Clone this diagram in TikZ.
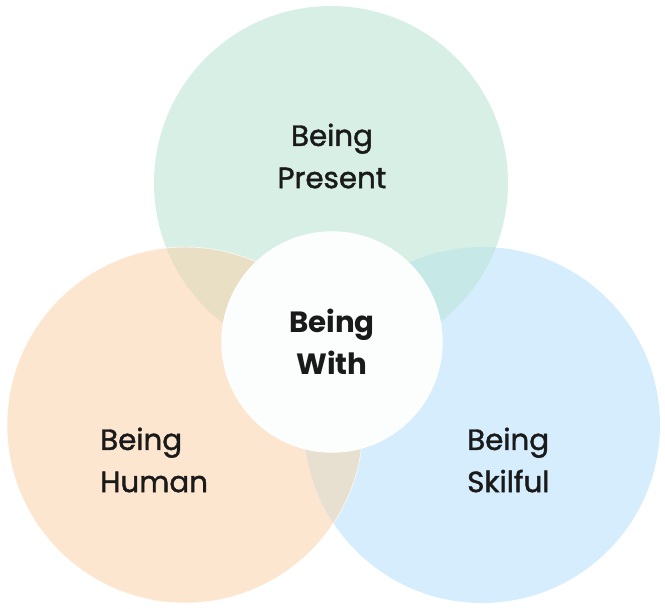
\documentclass[tikz,border=0pt]{standalone}
\usepackage{fontspec}
\setmainfont{Poppins}
\newfontfamily\labelfont[FakeBold=1.4]{Poppins}
\usepackage{tikz}
\usetikzlibrary{positioning}

\definecolor{presentgreen}{HTML}{D8EFE5}
\definecolor{humanorange}{HTML}{FDE6D0}
\definecolor{skilfulblue}{HTML}{D5EDFC}
\definecolor{greenorange}{HTML}{E8DFC4}
\definecolor{greenblue}{HTML}{C6E9E7}
\definecolor{orangeblue}{HTML}{E7DFCF}
\definecolor{withwhite}{HTML}{FCFDFD}
\definecolor{labeltext}{HTML}{1A1A1A}

\begin{document}
\begin{tikzpicture}[
        x=0.03cm, y=-0.03cm,
        label/.style = {font=\labelfont\fontsize{25}{36}\selectfont, text=labeltext, inner sep=0pt},
        withnode/.style = {circle, fill=withwhite, draw=white, line width=1.2pt, minimum size=6.6cm,
                           align=center, font=\fontsize{25}{36}\selectfont\bfseries, text=labeltext, inner sep=0pt}
    ]

    \useasboundingbox (0,0) rectangle (665,608);

    \coordinate (pc) at (331,183);
    \coordinate (hc) at (185,425);
    \coordinate (sc) at (482,425);

    % the three big circles
    \fill[presentgreen] (pc) circle (177);
    \fill[humanorange] (hc) circle (178);
    \fill[skilfulblue] (sc) circle (178);

    % overlaps
    \begin{scope}
        \clip (pc) circle (177);
        \fill[greenorange] (hc) circle (178);
        \fill[greenblue] (sc) circle (178);
    \end{scope}
    \begin{scope}
        \clip (hc) circle (178);
        \fill[orangeblue] (sc) circle (178);
    \end{scope}

    \draw[white, line width=0.8pt, opacity=0.6] (hc) circle (178);

    \node[label, align=center] (present) at (332,156) {Being\\Present};
    \node[label, align=left, anchor=west] (human) at (100,460) {Being\\Human};
    \node[label, align=left, anchor=west] (skilful) at (467,460) {Being\\Skilful};

    \node[withnode] (with) at (332,342) {Being\\With};

\end{tikzpicture}
\end{document}
